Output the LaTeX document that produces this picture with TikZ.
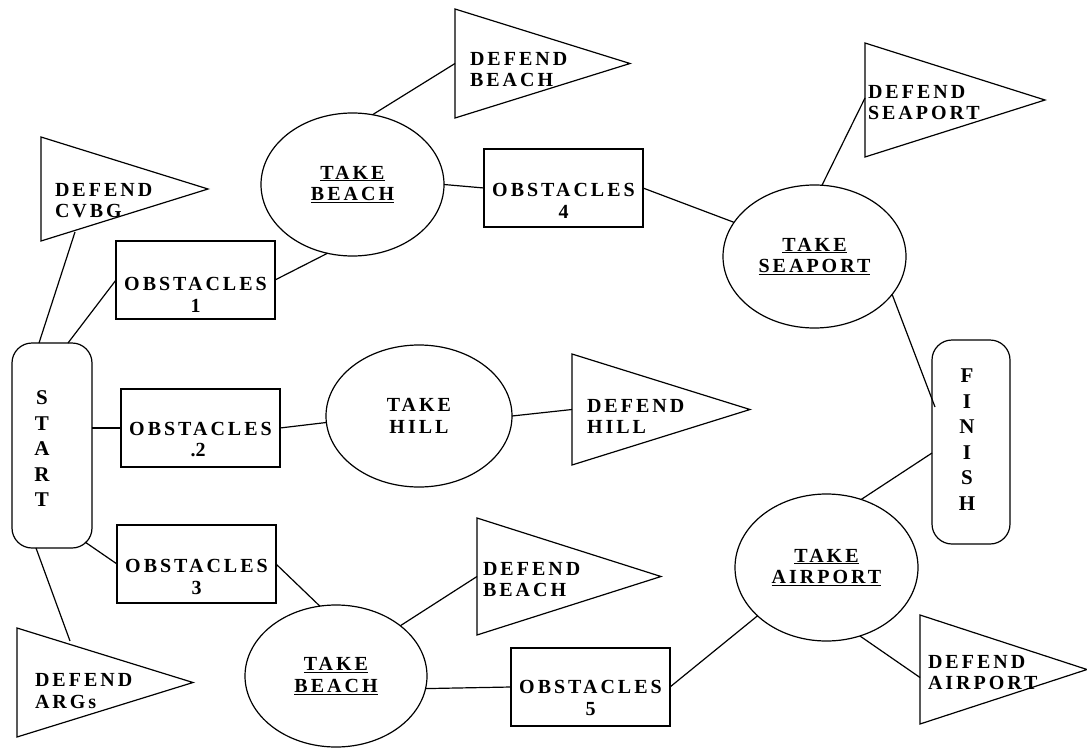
\documentclass[tikz,border=0pt]{standalone}
\usepackage{fontspec}
\setmainfont{Liberation Serif}
\newfontfamily\diagfont{Liberation Serif}[LetterSpace=15]
\usetikzlibrary{shapes.geometric,calc}
\begin{document}
\begin{tikzpicture}[x=1pt,y=-1pt,
  every node/.style={outer sep=0pt, inner sep=0pt},
  conn/.style={line width=1.2pt},
  lbl/.style={font={\diagfont\bfseries\fontsize{20}{21.5}\selectfont}, align=center},
  lbll/.style={font={\diagfont\bfseries\fontsize{20}{21.5}\selectfont}, align=left, anchor=west},
  obox/.style={draw, line width=1.2pt, rectangle, minimum width=159pt, minimum height=78pt},
  goal/.style 2 args={draw, line width=1.2pt, ellipse, minimum width=#1, minimum height=#2,
    font={\diagfont\bfseries\fontsize{20}{21.5}\selectfont}, align=center},
  pennant/.style 2 args={draw, line width=1.2pt, isosceles triangle, isosceles triangle stretches,
    shape border rotate=0, minimum height=#1, minimum width=#2, anchor=lower side},
  endbox/.style={draw, line width=1.2pt, rectangle, rounded corners=20pt, minimum width=80pt, minimum height=205pt},
  vtext/.style={font={\diagfont\bfseries\fontsize{21}{25.5}\selectfont}, align=center}
]
\fill[white] (0,0) rectangle (1087,747);
\useasboundingbox (0,0) rectangle (1087,747);

% start / finish
\node[endbox] (start) at (52,445.5) {};
\node[vtext] (startT) at (42,449) {S\\T\\A\\R\\T};
\node[endbox, minimum width=78pt, minimum height=204pt] (finish) at (971,442) {};
\node[vtext] (finishT) at (967,439.5) {F\\I\\N\\I\\S\\H};

% obstacle boxes
\node[obox] (ob1) at (195.5,280) {};
\node[lbl] (ob1T) at (195.5,295) {OBSTACLES\\1};
\node[obox] (ob2) at (200.5,428) {};
\node[lbl] (ob2T) at (200.5,439.5) {OBSTACLES\\\llap{.}2};
\node[obox] (ob3) at (196.5,564) {};
\node[lbl] (ob3T) at (196.5,577) {OBSTACLES\\3};
\node[obox] (ob4) at (563.5,188) {};
\node[lbl] (ob4T) at (563.5,201) {OBSTACLES\\4};
\node[obox] (ob5) at (590.5,687) {};
\node[lbl] (ob5T) at (590.5,698) {OBSTACLES\\5};

% goals
\node[goal={183pt}{143pt}] (tb1) at (352.5,184.5) {\underline{TAKE}\\\underline{BEACH}};
\node[goal={183pt}{143pt}] (tsea) at (814.5,256.5) {\underline{TAKE}\\\underline{SEAPORT}};
\node[goal={186pt}{142pt}] (thill) at (419,416) {TAKE\\HILL};
\node[goal={182pt}{142pt}] (tb2) at (336,676) {\underline{TAKE}\\\underline{BEACH}};
\node[goal={183pt}{147pt}] (tair) at (826.5,567.5) {\underline{TAKE}\\\underline{AIRPORT}};

% defend pennants
\node[pennant={167pt}{104pt}] (dcvbg) at (41,189) {};
\node[lbll] (dcvbgT) at (55,200.5) {DEFEND\\CVBG};
\node[pennant={175pt}{109pt}] (dbeach1) at (455,63.5) {};
\node[lbll] (dbeach1T) at (470,69.5) {DEFEND\\BEACH};
\node[pennant={180pt}{114pt}] (dsea) at (865,100) {};
\node[lbll] (dseaT) at (868,102.5) {DEFEND\\SEAPORT};
\node[pennant={178pt}{111pt}] (dhill) at (572,409.5) {};
\node[lbll] (dhillT) at (587,416.5) {DEFEND\\HILL};
\node[pennant={184pt}{117pt}] (dbeach2) at (477,576.5) {};
\node[lbll] (dbeach2T) at (483,579.5) {DEFEND\\BEACH};
\node[pennant={176pt}{109pt}] (dargs) at (17,682.5) {};
\node[lbll] (dargsT) at (35,691) {DEFEND\\ARGs};
\node[pennant={167pt}{109pt}] (dair) at (920,669.5) {};
\node[lbll] (dairT) at (928,672.5) {DEFEND\\AIRPORT};

% connectors
\draw[conn] ($(start.north)+(-13,0)$) -- ($(dcvbg.lower side)+(34,43)$);
\draw[conn] ($(start.north)+(16,0)$) -- (ob1.west);
\draw[conn] (ob1.east) -- (tb1.-110);
\draw[conn] (tb1.74) -- (dbeach1.lower side);
\draw[conn] (tb1.0) -- (ob4.west);
\draw[conn] (ob4.east) -- (tsea.157);
\draw[conn] (tsea.84) -- ($(dsea.lower side)+(0,-2)$);
\draw[conn] (tsea.-26) -- ($(finish.west)+(3,-35)$);
\draw[conn] (ob2.west -| start.east) -- (ob2.west);
\draw[conn] (ob2.east) -- (thill.184);
\draw[conn] (thill.0) -- (dhill.lower side);
\draw[conn] ($(start.south east)+(-7,-6)$) -- (ob3.west);
\draw[conn] ($(start.south)+(-16,0)$) -- ($(dargs.lower side)+(53,-41.5)$);
\draw[conn] (ob3.east) -- (tb2.103);
\draw[conn] (tb2.38) -- (dbeach2.lower side);
\draw[conn] (tb2.-8) -- (ob5.west);
\draw[conn] (ob5.east) -- (tair.215.5);
\draw[conn] (tair.63.6) -- ($(finish.west)+(0,11)$);
\draw[conn] (tair.-64) -- ($(dair.lower side)+(0,8)$);
\end{tikzpicture}
\end{document}
